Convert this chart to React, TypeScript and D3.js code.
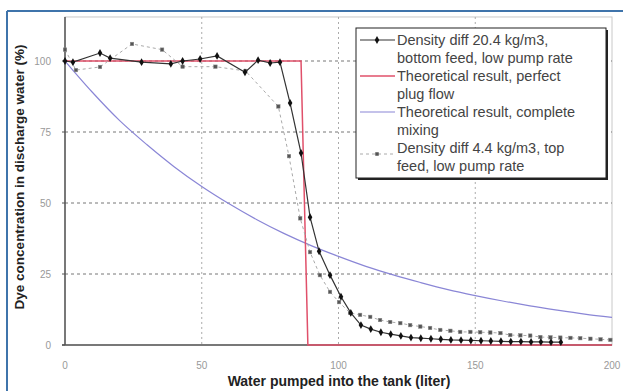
import React from "react";
import * as d3 from "d3";

const W = 623;
const H = 391;

// Density diff 20.4 kg/m3, bottom feed, low pump rate
const bottomX = [0, 2.9, 12.8, 16.5, 28, 38.7, 43, 49.4, 55.6, 65.8, 70.6, 75, 78.6, 82.3, 86.3, 89.6, 92.9, 96.9, 100.9, 104.5, 108.2, 111.8, 115.5, 119.1, 122.8, 126.5, 130.1, 133.8, 137.4, 141.1, 144.8, 148.4, 152.1, 155.7, 159.4, 163, 166.7, 170.4, 174, 177.7, 181.3];
const bottomY = [100, 99.6, 102.8, 101, 99.6, 99, 100, 100.7, 101.8, 96, 100.3, 99.3, 99.6, 85.2, 67.6, 45, 33, 24.6, 17, 11.3, 7, 5.6, 4.5, 3.8, 3.2, 2.6, 2.4, 2.2, 2, 1.8, 1.7, 1.6, 1.5, 1.4, 1.3, 1.2, 1.2, 1.1, 1.1, 1, 1];

// Density diff 4.4 kg/m3, top feed, low pump rate
const topX = [0, 4, 12.8, 24.5, 35.5, 43, 55, 66, 78, 81.9, 86, 89.6, 93.2, 96.9, 100.2, 104.2, 107.9, 111.6, 115.2, 118.9, 122.6, 126.2, 129.9, 133.5, 137.2, 140.9, 144.5, 148.2, 151.8, 155.5, 159.2, 162.8, 166.5, 170.1, 173.8, 177.5, 181.1, 184.8, 188.4, 192.1, 195.8, 199.4];
const topY = [104, 96.8, 97.9, 106, 104, 98, 98, 96.5, 84, 66.5, 44.6, 32.7, 24.6, 18.7, 15.1, 11.3, 10.6, 9.9, 8.8, 8.1, 7.7, 7, 6.5, 6, 5.3, 5, 4.6, 4.6, 4.5, 4.4, 4.2, 3.5, 3.4, 3.3, 2.8, 2.7, 2.6, 2.5, 2.4, 2.2, 2, 1.8];

// Theoretical result, perfect plug flow
const plugX = [0, 86.3, 88.8, 200];
const plugY = [100, 100, 0, 0];

// Theoretical result, complete mixing
const mixX = [0, 10, 20, 30, 40, 50, 60, 70, 80, 90, 100, 110, 120, 130, 140, 150, 160, 170, 180, 190, 200];
const mixY = [100, 89, 79, 70.5, 62.7, 55.8, 49.7, 44.2, 39.3, 35, 31.2, 27.7, 24.7, 22, 19.5, 17.4, 15.5, 13.8, 12.3, 10.9, 9.7];

const xTicks = [0, 50, 100, 150, 200];
const yTicks = [0, 25, 50, 75, 100];

const legendEntries = [
  { lines: ["Density diff 20.4 kg/m3,", "bottom feed, low pump rate"], kind: "bottom" },
  { lines: ["Theoretical result, perfect", "plug flow"], kind: "plug" },
  { lines: ["Theoretical result, complete", "mixing"], kind: "mix" },
  { lines: ["Density diff 4.4 kg/m3, top", "feed, low pump rate"], kind: "top" },
];

const zip = (xs: number[], ys: number[]) => xs.map((x, i) => [x, ys[i]] as [number, number]);

export default function App() {
  const x = d3.scaleLinear().domain([0, 200]).range([65, 612]);
  const y = d3.scaleLinear().domain([0, 100]).range([345, 61]);
  const top = y(115.5);
  const line = d3.line<[number, number]>().x((d) => x(d[0])).y((d) => y(d[1]));
  const smooth = d3.line<[number, number]>().x((d) => x(d[0])).y((d) => y(d[1])).curve(d3.curveMonotoneX);
  const diamond = d3.symbol().type(d3.symbolDiamond).size(18)() as string;

  const bottom = zip(bottomX, bottomY);
  const topS = zip(topX, topY);
  const plug = zip(plugX, plugY);
  const mix = zip(mixX, mixY);

  const font = "Liberation Sans, Arial, sans-serif";
  const lgX = 356, lgY = 28, lgW = 250, lgH = 150;
  const lineTops = [40, 76, 112, 148];
  const gap = 17.5;

  return (
    <div style={{ position: "absolute", left: 0, top: 0 }}>
      <svg width={W} height={H} style={{ display: "block", background: "#fff" }} fontFamily={font}>
        <rect x={0} y={0} width={W} height={H} fill="#fff" />
        {/* outer frame */}
        <line x1={7} y1={11} x2={W} y2={11} stroke="#3f74ab" strokeWidth={2} />
        <line x1={7} y1={11} x2={7} y2={H} stroke="#3f74ab" strokeWidth={2} />

        {/* plot border */}
        <rect x={x(0)} y={top} width={x(200) - x(0)} height={y(0) - top} fill="#fff" stroke="#c8c8c8" strokeWidth={1} />

        {/* gridlines */}
        {yTicks.filter((t) => t > 0).map((t) => (
          <line key={"hy" + t} x1={x(0)} x2={x(200)} y1={y(t)} y2={y(t)} stroke="#777" strokeWidth={1} strokeDasharray="3,3" />
        ))}
        {xTicks.filter((t) => t > 0 && t < 200).map((t) => (
          <line key={"vx" + t} x1={x(t)} x2={x(t)} y1={top} y2={y(0)} stroke="#aaa" strokeWidth={1} strokeDasharray="2,3" />
        ))}

        {/* axes */}
        <line x1={x(0)} x2={x(0)} y1={top} y2={y(0)} stroke="#555" strokeWidth={1.5} />
        <line x1={x(0) - 3} x2={x(200)} y1={y(0)} y2={y(0)} stroke="#555" strokeWidth={1.5} />
        {yTicks.map((t) => (
          <line key={"ty" + t} x1={x(0) - 3} x2={x(0)} y1={y(t)} y2={y(t)} stroke="#555" />
        ))}

        {/* tick labels */}
        {yTicks.map((t) => (
          <text key={"ly" + t} x={51} y={y(t)} dy="0.35em" textAnchor="end" fontSize={10} fill="#999">{t}</text>
        ))}
        {xTicks.map((t) => (
          <text key={"lx" + t} x={x(t)} y={365} dy="0.35em" textAnchor="middle" fontSize={10} fill="#999">{t}</text>
        ))}

        {/* series */}
        <path d={smooth(mix) || ""} fill="none" stroke="#8a86d6" strokeWidth={1.2} />
        <path d={line(plug) || ""} fill="none" stroke="#e0506a" strokeWidth={1.5} />
        <path d={line(topS) || ""} fill="none" stroke="#aaa" strokeWidth={1} strokeDasharray="3,3" />
        {topS.map((d, i) => (
          <rect key={"ts" + i} x={x(d[0]) - 1.75} y={y(d[1]) - 1.75} width={3.5} height={3.5} fill="#555" stroke="#888" strokeWidth={0.5} />
        ))}
        <path d={line(bottom) || ""} fill="none" stroke="#333" strokeWidth={1.2} />
        {bottom.map((d, i) => (
          <path key={"bs" + i} d={diamond} transform={`translate(${x(d[0])},${y(d[1])})`} fill="#111" />
        ))}

        {/* legend */}
        <rect x={lgX + 2} y={lgY + 2} width={lgW} height={lgH} fill="#222" />
        <rect x={lgX} y={lgY} width={lgW} height={lgH} fill="#fff" stroke="#222" strokeWidth={1} />
        {legendEntries.map((e, i) => {
          const ty = lineTops[i];
          const sy = e.kind === "top" ? ty + 6 : ty;
          return (
            <g key={"lg" + i}>
              {e.kind === "bottom" && (
                <g>
                  <line x1={360} x2={395} y1={sy} y2={sy} stroke="#333" strokeWidth={1.2} />
                  <path d={diamond} transform={`translate(377,${sy})`} fill="#111" />
                </g>
              )}
              {e.kind === "plug" && <line x1={360} x2={395} y1={sy} y2={sy} stroke="#e0506a" strokeWidth={1.5} />}
              {e.kind === "mix" && <line x1={360} x2={395} y1={sy} y2={sy} stroke="#8a86d6" strokeWidth={1.2} />}
              {e.kind === "top" && (
                <g>
                  <line x1={360} x2={395} y1={sy} y2={sy} stroke="#aaa" strokeWidth={1} strokeDasharray="3,3" />
                  <rect x={377 - 1.75} y={sy - 1.75} width={3.5} height={3.5} fill="#555" />
                </g>
              )}
              {e.lines.map((t, j) => (
                <text key={j} x={397} y={ty + j * gap} dy="0.35em" fontSize={14.5} fill="#444">{t}</text>
              ))}
            </g>
          );
        })}

        {/* axis titles */}
        <text x={339} y={381} dy="0.35em" textAnchor="middle" fontSize={14} fontWeight="bold" fill="#222">Water pumped into the tank (liter)</text>
        <text transform={`translate(19,177) rotate(-90)`} textAnchor="middle" dy="0.35em" fontSize={13.5} fontWeight="bold" fill="#222">Dye concentration in discharge water (%)</text>
      </svg>
    </div>
  );
}
